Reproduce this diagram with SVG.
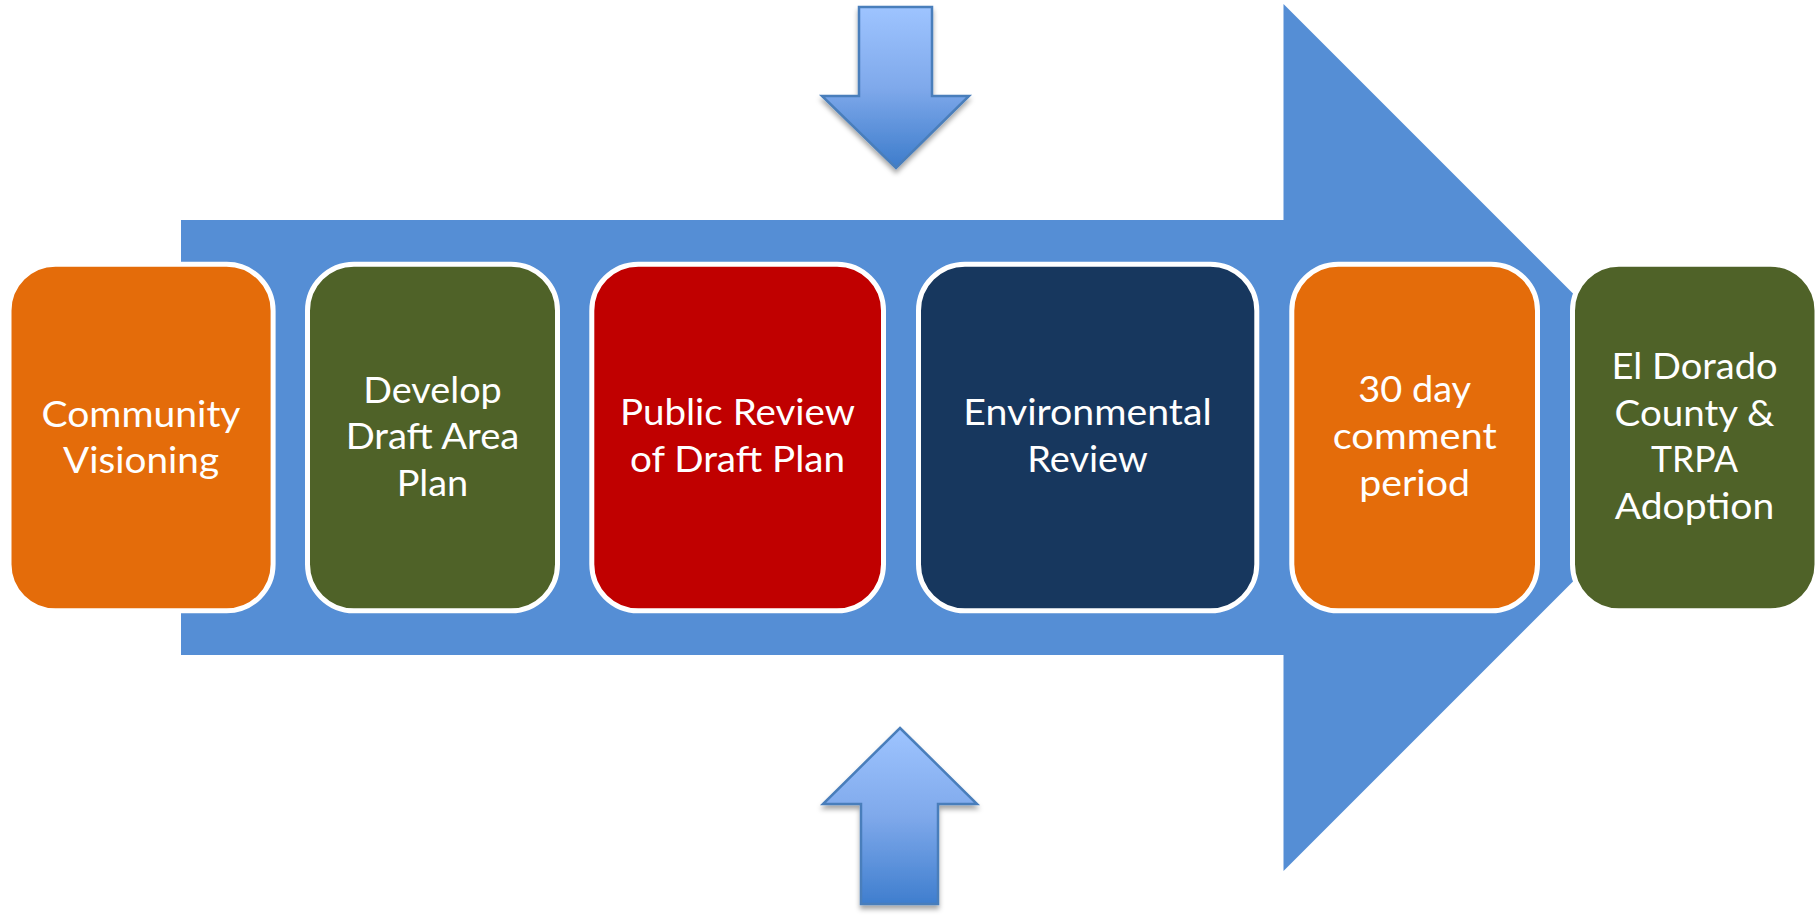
<svg xmlns="http://www.w3.org/2000/svg" width="1816" height="916" viewBox="0 0 1816 916">
  <style>
    .box { stroke: #FFFFFF; stroke-width: 5; }
    .lbl { font-family: Lato, "Liberation Sans", sans-serif; font-size: 36px; fill: #FFFFFF; text-anchor: middle; }
    .small { stroke: #4A7EBB; stroke-width: 2.5; stroke-linejoin: miter; }
  </style>
  <defs>
    <linearGradient id="gDown" x1="0" y1="0" x2="0" y2="1">
      <stop offset="0" stop-color="#9EC4FF"/>
      <stop offset="0.5" stop-color="#7FA9EB"/>
      <stop offset="1" stop-color="#3D7CCB"/>
    </linearGradient>
    <linearGradient id="gUp" x1="0" y1="0" x2="0" y2="1">
      <stop offset="0" stop-color="#9EC4FF"/>
      <stop offset="0.5" stop-color="#7FA9EB"/>
      <stop offset="1" stop-color="#3F7ECE"/>
    </linearGradient>
    <filter id="shadow" x="-20%" y="-20%" width="140%" height="150%">
      <feDropShadow dx="0" dy="4" stdDeviation="2.5" flood-color="#000000" flood-opacity="0.35"/>
    </filter>
  </defs>

  <g id="connectors">
    <polygon id="main-arrow" points="181,220 1283.5,220 1283.5,4 1717,437.5 1283.5,871 1283.5,655 181,655" fill="#558ED5"/>
    <polygon id="arrow-down" class="small" filter="url(#shadow)" fill="url(#gDown)" points="859,7 932,7 932,96 969,96 896,168 822,96 859,96"/>
    <polygon id="arrow-up" class="small" filter="url(#shadow)" fill="url(#gUp)" points="900,728 977,804 938,804 938,904 861,904 861,804 823,804"/>
  </g>

  <g id="node-community">
    <rect class="box" x="9" y="264.2" width="264.1" height="346.6" rx="46.5" fill="#E46C0A"/>
    <text class="lbl"><tspan x="141" y="426.5" textLength="199" lengthAdjust="spacingAndGlyphs">Community</tspan><tspan x="141" y="473" textLength="156" lengthAdjust="spacingAndGlyphs">Visioning</tspan></text>
  </g>

  <g id="node-develop">
    <rect class="box" x="307.5" y="264.2" width="250" height="346.6" rx="46.5" fill="#4F6228"/>
    <text class="lbl"><tspan x="432.5" y="402.5" textLength="138.5" lengthAdjust="spacingAndGlyphs">Develop</tspan><tspan x="432.5" y="449" textLength="173.7" lengthAdjust="spacingAndGlyphs">Draft Area</tspan><tspan x="432.5" y="495.7" textLength="71.6" lengthAdjust="spacingAndGlyphs">Plan</tspan></text>
  </g>

  <g id="node-public">
    <rect class="box" x="591.8" y="264.2" width="291.7" height="346.6" rx="46.5" fill="#C00000"/>
    <text class="lbl"><tspan x="737.5" y="425.3" textLength="235" lengthAdjust="spacingAndGlyphs">Public Review</tspan><tspan x="737.5" y="472" textLength="215" lengthAdjust="spacingAndGlyphs">of Draft Plan</tspan></text>
  </g>

  <g id="node-environmental">
    <rect class="box" x="918.5" y="264.2" width="338.3" height="346.6" rx="46.5" fill="#17375E"/>
    <text class="lbl"><tspan x="1087.5" y="425.3" textLength="248.4" lengthAdjust="spacingAndGlyphs">Environmental</tspan><tspan x="1087.5" y="472" textLength="120.4" lengthAdjust="spacingAndGlyphs">Review</tspan></text>
  </g>

  <g id="node-comment">
    <rect class="box" x="1291.8" y="264.2" width="245.7" height="346.6" rx="46.5" fill="#E46C0A"/>
    <text class="lbl"><tspan x="1414.7" y="402.3" textLength="113" lengthAdjust="spacingAndGlyphs">30 day</tspan><tspan x="1414.7" y="449" textLength="164" lengthAdjust="spacingAndGlyphs">comment</tspan><tspan x="1414.7" y="495.7" textLength="110.7" lengthAdjust="spacingAndGlyphs">period</tspan></text>
  </g>

  <g id="node-adoption">
    <rect class="box" x="1572.5" y="264.2" width="244.5" height="346.6" rx="46.5" fill="#4F6228"/>
    <text class="lbl"><tspan x="1694.5" y="379" textLength="166" lengthAdjust="spacingAndGlyphs">El Dorado</tspan><tspan x="1694.5" y="425.7" textLength="159.8" lengthAdjust="spacingAndGlyphs">County &amp;</tspan><tspan x="1694.5" y="472.3" textLength="87" lengthAdjust="spacingAndGlyphs">TRPA</tspan><tspan x="1694.5" y="519" textLength="159.5" lengthAdjust="spacingAndGlyphs">Adoption</tspan></text>
  </g>
</svg>
